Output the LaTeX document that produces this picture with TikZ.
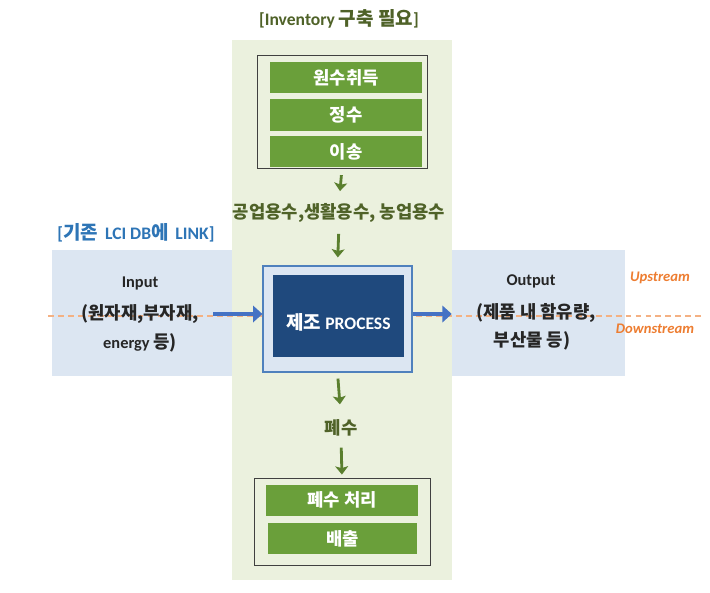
\documentclass[tikz,border=0pt]{standalone}
\usepackage{fontspec}
\setmainfont{Carlito}
\newfontfamily\kr{Noto Sans CJK KR}[Scale=1.08]
\usetikzlibrary{arrows.meta}

\definecolor{panelgreen}{HTML}{EBF1DE}
\definecolor{bargreen}{HTML}{6A9F3A}
\definecolor{darkgreen}{HTML}{4F6228}
\definecolor{arrowgreen}{HTML}{5A7F2E}
\definecolor{bandblue}{HTML}{DCE6F2}
\definecolor{procblue}{HTML}{4F81BD}
\definecolor{navy}{HTML}{1F497D}
\definecolor{linkblue}{HTML}{2E75B6}
\definecolor{arrowblue}{HTML}{4472C4}
\definecolor{dashorange}{HTML}{F4B183}
\definecolor{textorange}{HTML}{ED7D31}

\begin{document}
\begin{tikzpicture}[x=0.03cm,y=-0.03cm,
    txt/.style={font=\fontsize{14}{16}\selectfont\bfseries, inner sep=1pt},
    bar/.style={txt, fill=bargreen, text=white, minimum width=4.56cm, minimum height=0.93cm},
    group/.style={draw=black!75, thick},
    band/.style={fill=bandblue, minimum height=3.78cm},
    flowtxt/.style={txt, text=darkgreen},
    sidetxt/.style={txt, text=black!85},
    streamtxt/.style={font=\fontsize{12.5}{14}\selectfont\bfseries\itshape, text=textorange},
    greenarrow/.style={arrowgreen, line width=2.4pt, -{Stealth[length=7pt,width=11pt,inset=1.5pt]}},
    bluearrow/.style={arrowblue, line width=3.6pt, -{Triangle[length=8pt,width=14pt]}}]
    \useasboundingbox (0,0) rectangle (710,592);
    \fill[panelgreen] (232,40) rectangle (452,580);
    \node[band, minimum width=5.4cm] (inband) at (142,313) {};
    \node[band, minimum width=5.19cm] (outband) at (538.5,313) {};
    \draw[dashorange, line width=1.2pt, dash pattern=on 5pt off 3.5pt] (48,316) -- (705,316);

    \node[flowtxt, font=\fontsize{15}{17}\selectfont\bfseries] (title) at (339,19) {[Inventory {\kr 구축 필요}]};
    \node[txt, text=linkblue, font=\fontsize{15}{17}\selectfont\bfseries] (link) at (136,233) {[{\kr 기존}\, LCI DB{\kr 에}\, LINK]};

    \node[group, minimum width=5.1cm, minimum height=3.39cm] (top) at (342,111.5) {};
    \node[bar] (wonsu) at (346,78) {\kr 원수취득};
    \node[bar] (jeongsu) at (346,115) {\kr 정수};
    \node[bar] (iseong) at (346,151.5) {\kr 이송};
    \node[flowtxt] (uses) at (339,213) {\kr 공업용수,생활용수, 농업용수};

    \node[draw=procblue, fill=bandblue, line width=1pt, minimum width=4.47cm, minimum height=3.18cm] (proc) at (337.5,319) {};
    \node[fill=navy, minimum width=3.93cm, minimum height=2.46cm] (core) at (338.5,316) {};
    \node[txt, text=white, font=\fontsize{15}{17}\selectfont\bfseries] (coretxt) at (338.5,322) {{\kr 제조} PROCESS};

    \node[flowtxt] (waste) at (341,428) {\kr 폐수};
    \node[group, minimum width=5.28cm, minimum height=2.61cm] (bot) at (342,521.5) {};
    \node[bar] (treat) at (342,500) {\kr 폐수 처리};
    \node[bar, minimum width=4.47cm] (release) at (342.5,538.5) {\kr 배출};

    \node[sidetxt] (in1) at (140,283) {Input};
    \node[sidetxt] (in2) at (140,314) {\kr (원자재,부자재,};
    \node[sidetxt] (in3) at (140,343) {energy {\kr 등)}};
    \node[sidetxt] (out1) at (531,281) {Output};
    \node[sidetxt] (out2) at (536,313) {\kr (제품 내 함유량,};
    \node[sidetxt] (out3) at (532,341) {\kr 부산물 등)};
    \node[streamtxt] (up) at (660,278) {Upstream};
    \node[streamtxt] (down) at (655,329) {Downstream};

    \draw[greenarrow, shorten <=0.2cm, shorten >=0.33cm] (top.south) -- (uses.north);
    \draw[greenarrow, shorten <=0.3cm, shorten >=0.24cm] (uses.south) -- (proc.north);
    \draw[greenarrow, shorten <=0.18cm, shorten >=0.42cm] (proc.south) -- (waste.north);
    \draw[greenarrow, shorten <=0.3cm, shorten >=0.09cm] (waste.south) -- (bot.north);
    \draw[bluearrow, shorten <=0.39cm] (in2.east) -- (in2.east -| proc.west);
    \draw[bluearrow] (proc.east |- in2.east) -- (in2.east -| outband.west);
\end{tikzpicture}
\end{document}
